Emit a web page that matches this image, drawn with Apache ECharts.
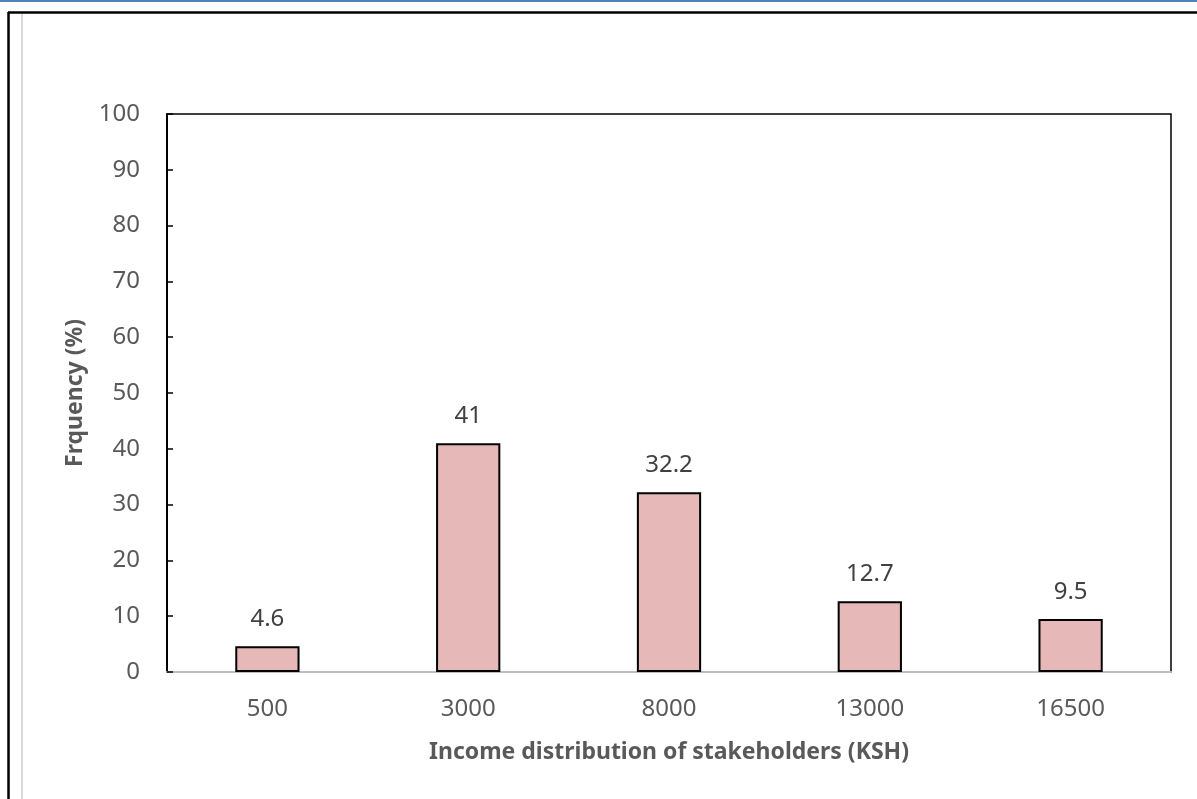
<!DOCTYPE html>
<html>
<head>
<meta charset="utf-8">
<script src="https://cdn.jsdelivr.net/npm/echarts@6/dist/echarts.min.js"></script>
<style>html,body{margin:0;padding:0;background:#fff;}#c{width:1197px;height:799px;}</style>
</head>
<body>
<div id="c"></div>
<script>
const categories = ['500', '3000', '8000', '13000', '16500'];
const frequency = [4.6, 41, 32.2, 12.7, 9.5];
const yTicks = [0, 10, 20, 30, 40, 50, 60, 70, 80, 90, 100];
const xTitle = 'Income distribution of stakeholders (KSH)';
const yTitle = 'Frquency (%)';

const chart = echarts.init(document.getElementById('c'));
const font = 'Noto Sans';
chart.setOption({
  animation: false,
  backgroundColor: '#fff',
  graphic: [
    {type: 'line', shape: {x1: 0, y1: 1, x2: 1197, y2: 1}, style: {stroke: '#4f81bd', lineWidth: 2}},
    {type: 'line', shape: {x1: 8, y1: 12.5, x2: 1197, y2: 12.5}, style: {stroke: '#000', lineWidth: 2.5}},
    {type: 'line', shape: {x1: 8.5, y1: 12, x2: 8.5, y2: 799}, style: {stroke: '#000', lineWidth: 2.5}},
    {type: 'line', shape: {x1: 22, y1: 14, x2: 22, y2: 799}, style: {stroke: '#d9d9d9', lineWidth: 2}}
  ],
  grid: {left: 167, top: 114, right: 26, bottom: 127, show: true, borderColor: '#000', borderWidth: 1.5, backgroundColor: 'transparent'},
  xAxis: {
    type: 'category',
    data: categories,
    name: xTitle,
    nameLocation: 'middle',
    nameGap: 69,
    nameTextStyle: {fontFamily: font, fontSize: 23, fontWeight: 'bold', color: '#595959'},
    axisLine: {show: true, lineStyle: {color: '#bfbfbf', width: 2}},
    axisTick: {show: false},
    axisLabel: {fontFamily: font, fontSize: 24, color: '#595959', margin: 25}
  },
  yAxis: {
    type: 'value',
    min: yTicks[0],
    max: yTicks[yTicks.length - 1],
    interval: 10,
    name: yTitle,
    nameLocation: 'middle',
    nameGap: 80,
    nameTextStyle: {fontFamily: font, fontSize: 23, fontWeight: 'bold', color: '#595959'},
    axisLine: {show: true, lineStyle: {color: '#000', width: 2}},
    axisTick: {show: true, inside: true, length: 6, lineStyle: {color: '#000', width: 1.5}},
    axisLabel: {fontFamily: font, fontSize: 24, color: '#595959', margin: 27},
    splitLine: {show: false}
  },
  series: [{
    type: 'bar',
    data: frequency,
    barWidth: '32%',
    itemStyle: {color: '#e6b8b7', borderColor: '#000', borderWidth: 2},
    label: {show: true, position: 'top', distance: 15, fontFamily: font, fontSize: 24, color: '#404040'}
  }]
});
</script>
</body>
</html>
